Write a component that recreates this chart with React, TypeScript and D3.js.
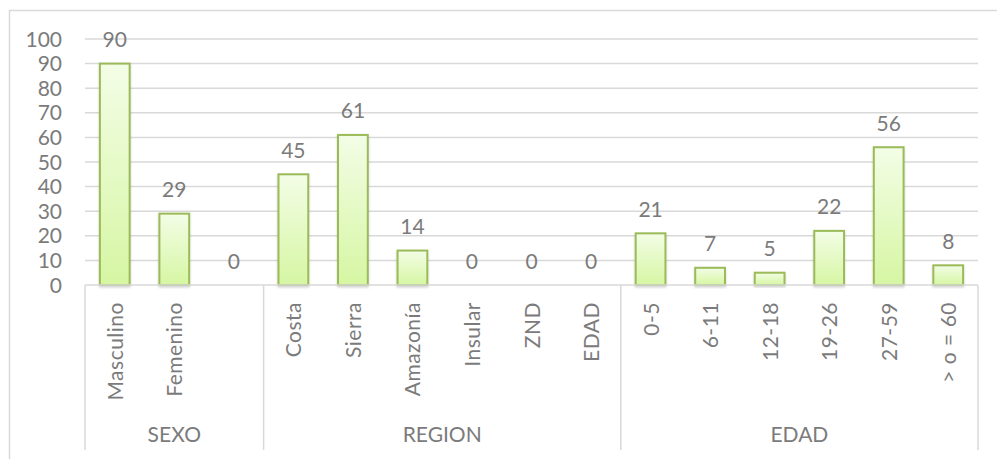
import React from "react";
import * as d3 from "d3";

const categories = ["Masculino", "Femenino", "", "Costa", "Sierra", "Amazonía", "Insular", "ZND", "EDAD", "0-5", "6-11", "12-18", "19-26", "27-59", "> o = 60"];
const values = [90, 29, 0, 45, 61, 14, 0, 0, 0, 21, 7, 5, 22, 56, 8];
const groups = ["SEXO", "REGION", "EDAD"];
const groupSizes = [3, 6, 6];
const yTicks = [0, 10, 20, 30, 40, 50, 60, 70, 80, 90, 100];

const W = 997;
const H = 459;
const left = 85;
const right = 978;
const top = 39;
const bottom = 285;
const axisBottom = 450;
const FONT = "Lato, 'Open Sans', sans-serif";
const TEXT = "#7b7b7b";
const GRID = "#d9d9d9";
const FS = 21;

export default function App() {
  const ids = categories.map((_, i) => String(i));
  const x = d3.scaleBand<string>().domain(ids).range([left, right]).paddingInner(0.5).paddingOuter(0.25);
  const y = d3.scaleLinear().domain([0, 100]).range([bottom, top]);
  const step = x.step();

  let acc = 0;
  const groupBounds = groupSizes.map((n, gi) => {
    const start = left + acc * step;
    acc += n;
    const end = left + acc * step;
    return { name: groups[gi], start, end };
  });

  return (
    <svg width={W} height={H} style={{ position: "absolute", left: 0, top: 0, background: "#fff" }} fontFamily={FONT}>
      <defs>
        <linearGradient id="barGrad" x1="0" y1="0" x2="0" y2="1">
          <stop offset="0%" stopColor="#f3fde6" />
          <stop offset="100%" stopColor="#d6f6a3" />
        </linearGradient>
        <filter id="shadow" x="-20%" y="-20%" width="140%" height="140%">
          <feDropShadow dx="0" dy="1.5" stdDeviation="1.2" floodColor="#000" floodOpacity="0.18" />
        </filter>
      </defs>
      <rect x={9.5} y={10.5} width={W} height={H} fill="#fff" stroke={GRID} strokeWidth={1.5} />
      {yTicks.map((t) => (
        <g key={t}>
          {t > 0 && <line x1={left} x2={right} y1={y(t)} y2={y(t)} stroke={GRID} strokeWidth={1.5} />}
          <text x={62} y={y(t) + 7.5} textAnchor="end" fontSize={FS} fill={TEXT}>{t}</text>
        </g>
      ))}
      {values.map((v, i) => {
        const bx = x(String(i))!;
        const bw = x.bandwidth();
        const cx = bx + bw / 2;
        return (
          <g key={i}>
            {v > 0 && (
              <rect x={bx} y={y(v)} width={bw} height={bottom - y(v)} fill="url(#barGrad)" stroke="#9bbb59" strokeWidth={2} filter="url(#shadow)" />
            )}
            <text x={cx} y={y(v) - 16.5} textAnchor="middle" fontSize={FS} fill={TEXT}>{v}</text>
            <text transform={`translate(${cx + 8},302) rotate(-90)`} textAnchor="end" fontSize={FS} letterSpacing={0.5} fill={TEXT}>{categories[i]}</text>
          </g>
        );
      })}
      <line x1={left} x2={right} y1={bottom} y2={bottom} stroke={GRID} strokeWidth={1.5} />
      {[left, ...groupBounds.map((g) => g.end)].map((gx, i) => (
        <line key={i} x1={gx} x2={gx} y1={bottom} y2={axisBottom} stroke={GRID} strokeWidth={1.5} />
      ))}
      {groupBounds.map((g) => (
        <text key={g.name} x={(g.start + g.end) / 2} y={442} textAnchor="middle" fontSize={FS} fill={TEXT}>{g.name}</text>
      ))}
    </svg>
  );
}
